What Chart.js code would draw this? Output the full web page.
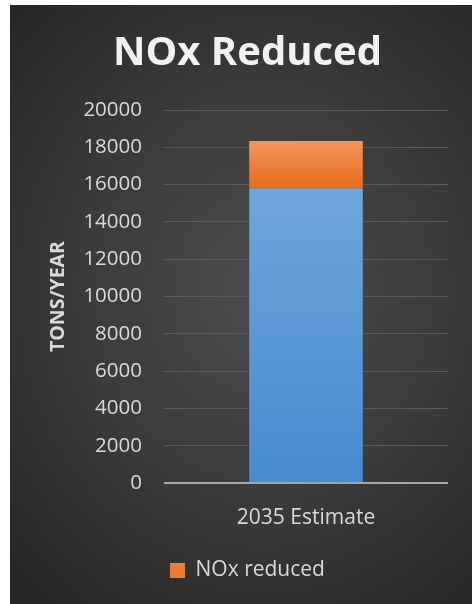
<!DOCTYPE html>
<html>
<head>
<meta charset="utf-8">
<script src="https://cdn.jsdelivr.net/npm/chart.js@4.4.1/dist/chart.umd.min.js"></script>
<style>
    html, body { margin: 0; padding: 0; background: #ffffff; }
    #quadro {
        position: absolute;
        left: 10px;
        top: 5px;
        width: 462px;
        height: 599px;
        background: radial-gradient(ellipse 75% 65% at 55% 48%, #4c4c4c 0%, #3c3c3c 50%, #272727 100%);
    }
</style>
</head>
<body>
<div id="quadro">
    <canvas id="graficoNox" width="462" height="599"></canvas>
</div>
<script>
// Dados
const categorias = ['2035 Estimate'];
const restante = [15800];      // parte azul (sem legenda)
const reduzido = [2540];       // NOx reduced
const ticksY = [0, 2000, 4000, 6000, 8000, 10000, 12000, 14000, 16000, 18000, 20000];

// Gradiente vertical entre dois valores do eixo y
function gradiente(chart, v0, v1, corTopo, corBase, fallback) {
    const area = chart.chartArea;
    if (!area) return fallback;
    const y = chart.scales.y;
    const g = chart.ctx.createLinearGradient(0, y.getPixelForValue(v1), 0, y.getPixelForValue(v0));
    g.addColorStop(0, corTopo);
    g.addColorStop(1, corBase);
    return g;
}

const ctx = document.getElementById('graficoNox').getContext('2d');
new Chart(ctx, {
    type: 'bar',
    data: {
        labels: categorias,
        datasets: [
            {
                label: 'NOx remaining',
                data: restante,
                backgroundColor: (c) => gradiente(c.chart, 0, restante[0], '#6fa6dc', '#478bd0', '#5b9bd5'),
                barPercentage: 0.8,
                categoryPercentage: 0.5
            },
            {
                label: 'NOx reduced',
                data: reduzido,
                backgroundColor: (c) => gradiente(c.chart, restante[0], restante[0] + reduzido[0], '#f5955c', '#e56d1c', '#ed7d31'),
                barPercentage: 0.8,
                categoryPercentage: 0.5
            }
        ]
    },
    options: {
        responsive: false,
        animation: false,
        layout: { padding: { left: 37, right: 24, top: 0, bottom: 13 } },
        scales: {
            x: {
                stacked: true,
                grid: { display: false },
                border: { display: false },
                ticks: {
                    color: '#d9d9d9',
                    padding: 14,
                    font: { family: 'Open Sans', size: 21 }
                },
                afterFit: (s) => { s.height = 67; }
            },
            y: {
                stacked: true,
                min: 0,
                max: 20000,
                afterBuildTicks: (s) => { s.ticks = ticksY.map(v => ({ value: v })); },
                grid: {
                    drawTicks: false,
                    color: (c) => c.tick && c.tick.value === 0 ? '#a6a6a6' : '#5a5a5a',
                    lineWidth: (c) => c.tick && c.tick.value === 0 ? 2 : 1
                },
                border: { display: false },
                ticks: {
                    color: '#d9d9d9',
                    padding: 22,
                    font: { family: 'Open Sans', size: 20.5 },
                    callback: (v) => String(v)
                },
                title: {
                    display: true,
                    text: 'TONS/YEAR',
                    color: '#d9d9d9',
                    padding: 0,
                    font: { family: 'Open Sans', size: 19.5, weight: 'bold' }
                },
                afterFit: (s) => { s.width = 117; }
            }
        },
        plugins: {
            title: {
                display: true,
                text: 'NOx Reduced',
                color: '#f2f2f2',
                padding: { top: 25, bottom: 32 },
                font: { family: 'Open Sans', size: 40, weight: 'bold' }
            },
            legend: {
                position: 'bottom',
                labels: {
                    color: '#d9d9d9',
                    boxWidth: 15,
                    boxHeight: 15,
                    padding: 10,
                    font: { family: 'Open Sans', size: 21 },
                    filter: (item) => item.text === 'NOx reduced',
                    generateLabels: (chart) => {
                        const itens = Chart.defaults.plugins.legend.labels.generateLabels(chart);
                        itens.forEach(it => { it.fillStyle = '#ed7d31'; it.strokeStyle = '#ed7d31'; it.lineWidth = 0; });
                        return itens;
                    }
                }
            },
            tooltip: { enabled: false }
        }
    }
});
</script>
</body>
</html>
